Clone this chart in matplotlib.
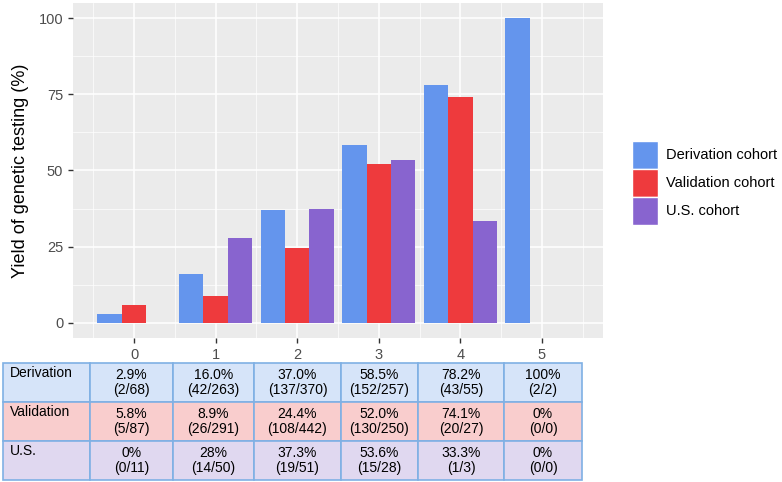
import matplotlib.pyplot as plt
import numpy as np

plt.rcParams['font.family'] = ['Liberation Sans', 'DejaVu Sans']

scores = [0, 1, 2, 3, 4, 5]
cohorts = ['Derivation cohort', 'Validation cohort', 'U.S. cohort']
derivation = [2.9, 16.0, 37.0, 58.5, 78.2, 100]
validation = [5.8, 8.9, 24.4, 52.0, 74.1, 0]
us = [0, 28, 37.3, 53.6, 33.3, 0]

row_labels = ['Derivation', 'Validation', 'U.S.']
deriv_txt = ['2.9%\n(2/68)', '16.0%\n(42/263)', '37.0%\n(137/370)', '58.5%\n(152/257)', '78.2%\n(43/55)', '100%\n(2/2)']
valid_txt = ['5.8%\n(5/87)', '8.9%\n(26/291)', '24.4%\n(108/442)', '52.0%\n(130/250)', '74.1%\n(20/27)', '0%\n(0/0)']
us_txt = ['0%\n(0/11)', '28%\n(14/50)', '37.3%\n(19/51)', '53.6%\n(15/28)', '33.3%\n(1/3)', '0%\n(0/0)']

bar_colors = ['#6495ED', '#EE3A3D', '#8864CF']
cell_colors = ['#D6E4F9', '#F9CDCD', '#E0D8F0']
edge = '#7FB0E4'

fig = plt.figure(figsize=(7.82, 4.82), dpi=100)
ax = fig.add_axes([73/782, 1-338/482, 530/782, 335/482])
ax.set_facecolor('#EBEBEB')

x = np.array(scores)
w = 0.3
for i, (vals, lab) in enumerate(zip([derivation, validation, us], cohorts)):
    ax.bar(x + (i-1)*w, vals, width=w, color=bar_colors[i], label=lab, zorder=3)

ax.set_xlim(-0.75, 5.75)
ax.set_ylim(-5, 105)
ax.set_xticks(scores)
ax.set_yticks([0, 25, 50, 75, 100])
ax.set_xticks(np.arange(-0.5, 6, 1), minor=True)
ax.set_yticks([12.5, 37.5, 62.5, 87.5], minor=True)
ax.grid(which='major', color='white', lw=1.1, zorder=0)
ax.grid(which='minor', color='white', lw=0.5, zorder=0)
ax.tick_params(which='major', length=3.5, color='#333333', labelcolor='#4D4D4D', labelsize=10.5, width=1)
ax.tick_params(which='minor', length=0)
for s in ax.spines.values():
    s.set_visible(False)
ax.set_ylabel('Yield of genetic testing (%)', fontsize=13, color='black', labelpad=7)

leg = ax.legend(loc='center left', bbox_to_anchor=(1.055, 0.463), frameon=False,
                fontsize=10.5, handlelength=1.8, handleheight=2.5, labelspacing=0.05,
                handletextpad=0.5, borderaxespad=0, borderpad=0)
for h in leg.legend_handles:
    h.set_edgecolor('white')

# table below the panel
col_edges = [3, 90, 173, 254, 341, 418, 504, 582]
row_edges = [363, 402, 441, 480]
cells = [deriv_txt, valid_txt, us_txt]
for r in range(3):
    y0, y1 = row_edges[r], row_edges[r+1]
    for c in range(7):
        x0, x1 = col_edges[c], col_edges[c+1]
        fig.patches.append(plt.Rectangle((x0/782, 1-y1/482), (x1-x0)/782, (y1-y0)/482,
                                         transform=fig.transFigure, facecolor=cell_colors[r],
                                         edgecolor=edge, lw=1.2))
        if c == 0:
            fig.text((x0+7)/782, 1-(y0+10)/482, row_labels[r], fontsize=10, va='center', ha='left')
        else:
            fig.text((x0+x1)/2/782, 1-(y0+y1)/2/482, cells[r][c-1], fontsize=10,
                     va='center', ha='center', linespacing=1.1)

fig.savefig('out.png', dpi=100)
